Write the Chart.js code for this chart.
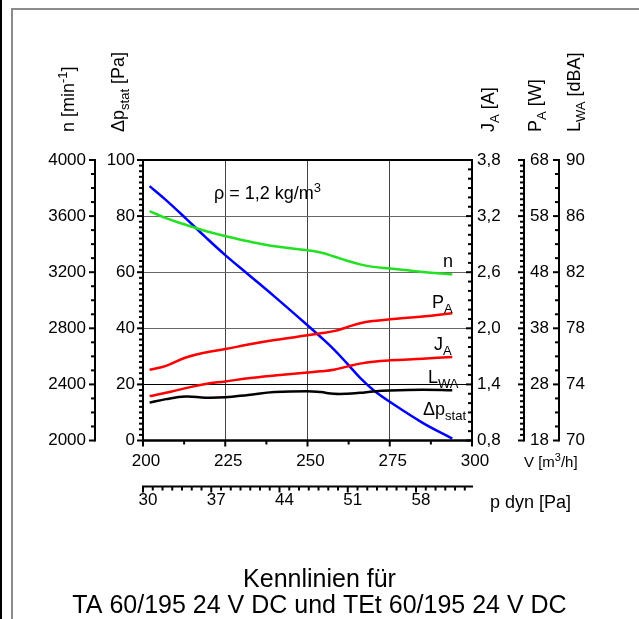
<!DOCTYPE html>
<html>
<head>
<meta charset="utf-8">
<title>Kennlinien TA 60/195</title>
<script src="https://cdn.jsdelivr.net/npm/chart.js@4.4.0/dist/chart.umd.min.js"></script>
<style>
  html, body { margin: 0; padding: 0; background: #fff; }
</style>
</head>
<body>
<canvas id="kennlinien" width="639" height="619"></canvas>
<script>
const flow = [202, 207, 213, 219, 225, 232, 240, 250, 254, 258, 262, 266, 270, 275, 285, 294];
// Kennlinien
const dpStat = [90.7, 85.7, 79.2, 72.5, 66.1, 59.2, 51.3, 41.1, 36.9, 32.5, 27.5, 22.3, 18.0, 13.8, 6.3, 0.7];
const speed = [3636, 3585, 3538, 3494, 3458, 3420, 3385, 3357, 3340, 3312, 3282, 3256, 3238, 3226, 3202, 3184];
const power = [30.6, 31.3, 32.8, 33.7, 34.3, 35.1, 35.9, 36.75, 37.1, 37.5, 38.2, 38.9, 39.3, 39.6, 40.1, 40.7];
const current = [1.275, 1.31, 1.36, 1.405, 1.432, 1.465, 1.494, 1.526, 1.54, 1.557, 1.59, 1.622, 1.643, 1.657, 1.675, 1.693];
const sound = [72.7, 72.95, 73.13, 73.05, 73.08, 73.25, 73.45, 73.52, 73.45, 73.33, 73.33, 73.4, 73.5, 73.57, 73.62, 73.58];

// Achsenbeschriftungen
const flowTicks = [200, 225, 250, 275, 300];
const pdynTicks = [30, 37, 44, 51, 58];
const speedTicks = [2000, 2400, 2800, 3200, 3600, 4000];
const dpTicks = [0, 20, 40, 60, 80, 100];
const currentTicks = [0.8, 1.4, 2.0, 2.6, 3.2, 3.8];
const powerTicks = [18, 28, 38, 48, 58, 68];
const soundTicks = [70, 74, 78, 82, 86, 90];

const FONT = "'Liberation Sans', Arial, sans-serif";
const tickFont = { family: FONT, size: 17 };

const fixedTicks = (values) => (scale) => {
  scale.ticks = values.map((v) => ({ value: v }));
};
const plain = (v) => String(v);
const comma = (v) => v.toFixed(1).replace(".", ",");
const points = (ys) => flow.map((x, i) => ({ x: x, y: ys[i] }));

// no grid lines, no built-in tick marks (drawn by the plugin below)
const noGrid = { display: true, drawOnChartArea: false, drawTicks: false };

function sideAxis(position, weight, min, max, values, width, padding, extra) {
  return Object.assign({
    type: "linear",
    position: position,
    weight: weight,
    min: min,
    max: max,
    afterBuildTicks: fixedTicks(values),
    afterFit: (scale) => { scale.width = width; },
    grid: noGrid,
    border: { display: false },
    ticks: { font: tickFont, color: "#000", padding: padding, autoSkip: false, callback: plain },
  }, extra || {});
}

// rich text with sub/superscripts, optionally rotated
function richText(ctx, x, y, parts, rotated, size) {
  const big = size || 18;
  const small = Math.round(big * 0.72);
  ctx.save();
  ctx.translate(x, y);
  if (rotated) ctx.rotate(-Math.PI / 2);
  ctx.textAlign = "left";
  ctx.textBaseline = "alphabetic";
  ctx.fillStyle = "#000";
  let cx = 0;
  parts.forEach((p) => {
    ctx.font = (p.sub || p.sup ? small : big) + "px " + FONT;
    const dy = p.sub ? big * 0.25 : p.sup ? -big * 0.4 : 0;
    ctx.fillText(p.t, cx, dy);
    cx += ctx.measureText(p.t).width;
  });
  ctx.restore();
}

function vTicks(ctx, scale, x, dir, step, majors) {
  const n = Math.round((scale.max - scale.min) / step);
  ctx.beginPath();
  ctx.moveTo(x, scale.top - 1);
  ctx.lineTo(x, scale.bottom + 1);
  ctx.stroke();
  for (let i = 0; i <= n; i++) {
    const v = scale.min + i * step;
    const major = majors.some((m) => Math.abs(m - v) < step / 10);
    const y = scale.getPixelForValue(v);
    ctx.beginPath();
    ctx.moveTo(x, y);
    ctx.lineTo(x + dir * (major ? 6 : 4), y);
    ctx.stroke();
  }
}

function hTicks(ctx, scale, y, step, majors) {
  const n = Math.floor((scale.max - scale.min) / step + 1e-6);
  ctx.beginPath();
  ctx.moveTo(scale.left - 1, y);
  ctx.lineTo(scale.right + 1, y);
  ctx.stroke();
  for (let i = 0; i <= n; i++) {
    const v = scale.min + i * step;
    const major = majors.some((m) => Math.abs(m - v) < step / 10);
    const x = scale.getPixelForValue(v);
    ctx.beginPath();
    ctx.moveTo(x, y);
    ctx.lineTo(x, y + (major ? 6 : 4));
    ctx.stroke();
  }
}

const decorations = {
  id: "decorations",
  afterDraw(chart) {
    const { ctx, chartArea: a, scales: s } = chart;
    ctx.save();
    // page frame
    ctx.lineWidth = 2;
    ctx.strokeStyle = "#8c8c8c";
    ctx.beginPath();
    ctx.moveTo(12, 619);
    ctx.lineTo(12, 9);
    ctx.lineTo(639, 9);
    ctx.stroke();
    ctx.strokeStyle = "#000";
    ctx.beginPath();
    ctx.moveTo(1, 0);
    ctx.lineTo(1, 619);
    ctx.stroke();

    // plot frame
    ctx.strokeRect(a.left, a.top, a.right - a.left, a.bottom - a.top);

    // axes with minor ticks
    vTicks(ctx, s.n, s.n.right, -1, 100, speedTicks);
    vTicks(ctx, s.dp, s.dp.right, -1, 2, dpTicks);
    vTicks(ctx, s.ja, s.ja.left, -1, 0.1, currentTicks);
    vTicks(ctx, s.pa, s.pa.left, -1, 1, powerTicks);
    vTicks(ctx, s.lwa, s.lwa.left, -1, 1, soundTicks);
    hTicks(ctx, s.x, s.x.top, 12.5, flowTicks);
    hTicks(ctx, s.xd, s.xd.top, 1, pdynTicks);
    ctx.restore();

    // axis titles
    richText(ctx, 74, 132, [{ t: "n [min" }, { t: "-1", sup: true }, { t: "]" }], true);
    richText(ctx, 124, 132, [{ t: "\u0394p" }, { t: "stat", sub: true }, { t: " [Pa]" }], true);
    richText(ctx, 494, 132, [{ t: "J" }, { t: "A", sub: true }, { t: " [A]" }], true);
    richText(ctx, 541, 132, [{ t: "P" }, { t: "A", sub: true }, { t: " [W]" }], true);
    richText(ctx, 580, 132, [{ t: "L" }, { t: "WA", sub: true }, { t: " [dBA]" }], true);
    richText(ctx, 524, 467, [{ t: "V [m" }, { t: "3", sup: true }, { t: "/h]" }], false, 15);
    richText(ctx, 490, 508, [{ t: "p dyn [Pa]" }], false);

    // annotations in the plot
    richText(ctx, 214, 199, [{ t: "\u03c1 = 1,2 kg/m" }, { t: "3", sup: true }], false);
    richText(ctx, 443, 267, [{ t: "n" }], false);
    richText(ctx, 432, 308, [{ t: "P" }, { t: "A", sub: true }], false);
    richText(ctx, 434, 350, [{ t: "J" }, { t: "A", sub: true }], false);
    richText(ctx, 428, 383, [{ t: "L" }, { t: "WA", sub: true }], false);
    richText(ctx, 423, 415, [{ t: "\u0394p" }, { t: "stat", sub: true }], false);
  },
};

const line = (label, ys, color, axis) => ({
  label: label,
  data: points(ys),
  yAxisID: axis,
  xAxisID: "x",
  borderColor: color,
  borderWidth: 2.5,
  pointRadius: 0,
  fill: false,
  tension: 0.4,
});

const ctx = document.getElementById("kennlinien").getContext("2d");
new Chart(ctx, {
  type: "line",
  data: {
    datasets: [
      line("n", speed, "#22e022", "n"),
      line("PA", power, "#ff0000", "pa"),
      line("JA", current, "#ff0000", "ja"),
      line("LWA", sound, "#000000", "lwa"),
      line("dp stat", dpStat, "#0000ff", "dp"),
    ],
  },
  options: {
    responsive: false,
    animation: false,
    devicePixelRatio: 1,
    layout: { padding: { left: 0, right: 0, top: 160, bottom: 0 } },
    plugins: {
      legend: { display: false },
      tooltip: { enabled: false },
      title: {
        display: true,
        position: "bottom",
        text: ["Kennlinien f\u00fcr", "TA 60/195 24 V DC und TEt 60/195 24 V DC"],
        color: "#000",
        font: { family: FONT, size: 25, weight: "normal", lineHeight: 1.05 },
        padding: { top: 42, bottom: 0 },
      },
    },
    scales: {
      x: {
        type: "linear",
        position: "bottom",
        weight: 0,
        min: 200,
        max: 300,
        afterBuildTicks: fixedTicks(flowTicks),
        afterFit: (scale) => { scale.height = 46; },
        grid: {
          drawTicks: false,
          lineWidth: 1,
          color: (c) => (c.tick && c.tick.value > 200 && c.tick.value < 300 ? "#444" : "rgba(0,0,0,0)"),
        },
        border: { display: false },
        ticks: { font: tickFont, color: "#000", padding: 11, labelOffset: 3, maxRotation: 0, autoSkip: false },
      },
      xd: {
        type: "linear",
        position: "bottom",
        weight: 1,
        min: 30,
        max: 63.74,
        afterBuildTicks: fixedTicks(pdynTicks),
        afterFit: (scale) => { scale.height = 38; },
        grid: noGrid,
        border: { display: false },
        ticks: { font: tickFont, color: "#000", padding: 4, labelOffset: 5, maxRotation: 0, autoSkip: false },
      },
      dp: sideAxis("left", 0, 0, 100, dpTicks, 48, 8, {
        grid: {
          drawTicks: false,
          lineWidth: 1,
          color: (c) => {
            const v = c.tick && c.tick.value;
            if (v === 20) return "#000";
            return v > 0 && v < 100 ? "#666" : "rgba(0,0,0,0)";
          },
        },
      }),
      n: sideAxis("left", 1, 2000, 4000, speedTicks, 95, 9),
      ja: sideAxis("right", 0, 0.8, 3.8, currentTicks, 52, 5, {
        ticks: { font: tickFont, color: "#000", padding: 5, autoSkip: false, callback: comma },
      }),
      pa: sideAxis("right", 1, 18, 68, powerTicks, 35, 6),
      lwa: sideAxis("right", 2, 70, 90, soundTicks, 80, 7),
    },
  },
  plugins: [decorations],
});
</script>
</body>
</html>
